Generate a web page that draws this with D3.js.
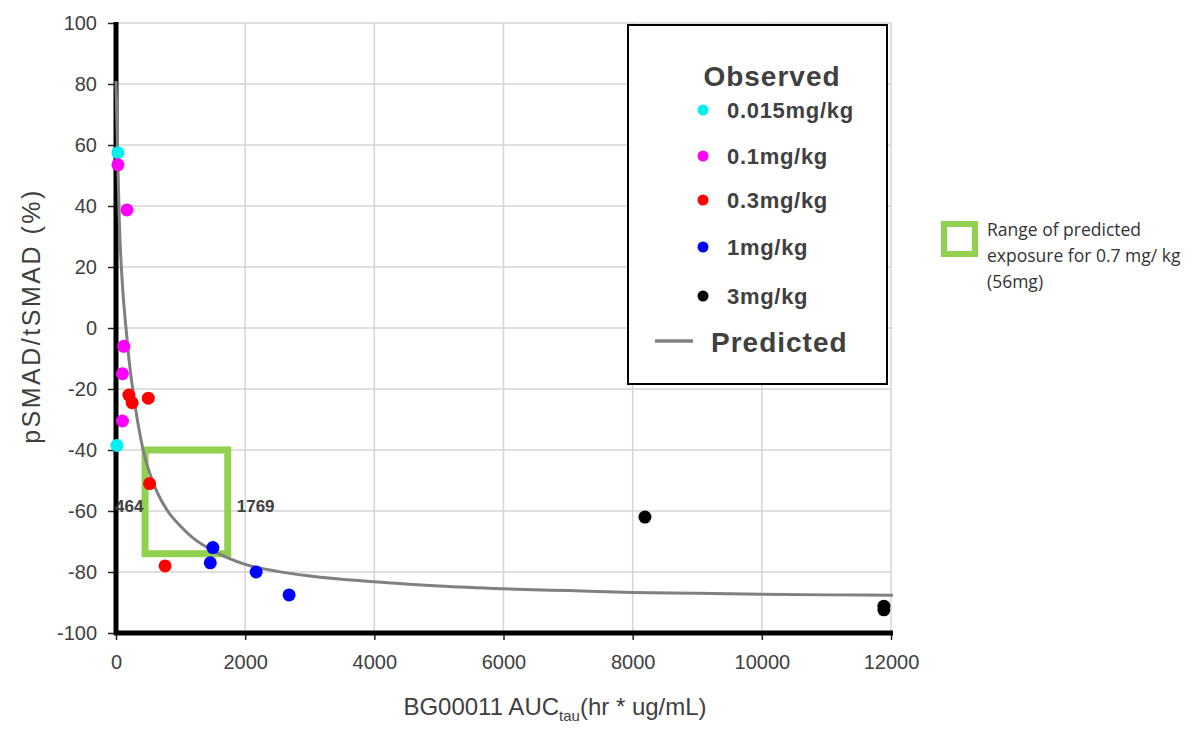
<!DOCTYPE html>
<html>
<head>
<meta charset="utf-8">
<script src="https://cdn.jsdelivr.net/npm/d3@7"></script>
<style>
  body { margin: 0; background: #fff; }
  svg { display: block; }
</style>
</head>
<body>
<svg id="chart" width="1200" height="729"></svg>
<script>
// size of window
var width = 1200, height = 729;

// observed points per dose group, [AUC, pSMAD/tSMAD %]
var obs_0015 = [[30, 57.5], [15, -38.5]];
var obs_01 = [[30, 53.5], [170, 38.7], [120, -6], [100, -15], [100, -30.5]];
var obs_03 = [[200, -22], [250, -24.5], [500, -23], [520, -51], [760, -78]];
var obs_1 = [[1500, -72], [1460, -77], [2170, -80], [2680, -87.5]];
var obs_3 = [[8190, -62], [11890, -91.2], [11890, -92.4]];

var groupNames = ["0.015mg/kg", "0.1mg/kg", "0.3mg/kg", "1mg/kg", "3mg/kg"];
var groupColors = ["#00f0f0", "#ff00ff", "#ff0000", "#0000ff", "#000000"];
var groupData = [obs_0015, obs_01, obs_03, obs_1, obs_3];

// predicted curve
var predX = [0, 20, 50, 100, 150, 200, 300, 420, 600, 800, 1000, 1200, 1500, 2000, 2500, 3000, 4000, 5000, 6000, 7000, 8000, 9000, 10000, 11000, 12000, 12030];
var predY = [81, 62, 36, 14, 1, -10, -26, -40, -52, -60, -65, -69, -73, -77.5, -79.8, -81.3, -83.2, -84.6, -85.5, -86.1, -86.7, -87, -87.3, -87.5, -87.6, -87.6];

// range of predicted exposure (box) and labels
var boxX = [450, 1730];
var boxY = [-40, -74];
var boxLabels = ["464", "1769"];

var xTicks = [0, 2000, 4000, 6000, 8000, 10000, 12000];
var yTicks = [-100, -80, -60, -40, -20, 0, 20, 40, 60, 80, 100];

var svg = d3.select("#chart");
var x = d3.scaleLinear().domain([0, 12000]).range([116, 891]);
var y = d3.scaleLinear().domain([-100, 100]).range([633, 23]);

var textCol = "#404040";
var axisFont = "'Liberation Sans', Arial, sans-serif";

// grid
svg.append("g").selectAll("line").data(yTicks.filter(d => d > -100)).join("line")
  .attr("x1", x(0)).attr("x2", x(12000))
  .attr("y1", d => y(d)).attr("y2", d => y(d))
  .attr("stroke", "#d4d4d4").attr("stroke-width", 1.5);
svg.append("g").selectAll("line").data(xTicks.filter(d => d > 0)).join("line")
  .attr("x1", d => x(d)).attr("x2", d => x(d))
  .attr("y1", y(100)).attr("y2", y(-100))
  .attr("stroke", "#d4d4d4").attr("stroke-width", 1.5);

// axes with d3 axis generators
var yAxis = svg.append("g").attr("transform", "translate(" + x(0) + ",0)")
  .call(d3.axisLeft(y).tickValues(yTicks).tickSize(8).tickPadding(11).tickFormat(d => String(d)));
var xAxis = svg.append("g").attr("transform", "translate(0," + y(-100) + ")")
  .call(d3.axisBottom(x).tickValues(xTicks).tickSize(7).tickPadding(12).tickFormat(d => String(d)));
[yAxis, xAxis].forEach(function(a) {
  a.select(".domain").remove();
  a.selectAll(".tick line").attr("stroke", "#222").attr("stroke-width", 1.5);
  a.selectAll(".tick text").attr("fill", textCol).style("font-family", axisFont).style("font-size", "20px");
});
xAxis.selectAll(".tick text").attr("dy", "0.85em");
svg.append("line").attr("x1", x(0)).attr("x2", x(0)).attr("y1", y(100) - 1).attr("y2", y(-100) + 2)
  .attr("stroke", "#000").attr("stroke-width", 5);
svg.append("line").attr("x1", x(0) - 2).attr("x2", x(12000) + 2).attr("y1", y(-100)).attr("y2", y(-100))
  .attr("stroke", "#000").attr("stroke-width", 5);

// green range box
svg.append("rect")
  .attr("x", x(boxX[0])).attr("y", y(boxY[0]))
  .attr("width", x(boxX[1]) - x(boxX[0])).attr("height", y(boxY[1]) - y(boxY[0]))
  .attr("fill", "none").attr("stroke", "#92d050").attr("stroke-width", 7);

// box labels
svg.append("text").attr("x", x(0) - 1).attr("y", y(-60) + 1).text(boxLabels[0])
  .attr("fill", textCol).style("font-family", axisFont).style("font-size", "17px").style("font-weight", "bold");
svg.append("text").attr("x", x(boxX[1]) + 9).attr("y", y(-60) + 1).text(boxLabels[1])
  .attr("fill", textCol).style("font-family", axisFont).style("font-size", "17px").style("font-weight", "bold");

// predicted line
var pred = predX.map((d, i) => [d, predY[i]]);
svg.append("path").datum(pred)
  .attr("d", d3.line().x(d => x(d[0])).y(d => y(d[1])).curve(d3.curveMonotoneX))
  .attr("fill", "none").attr("stroke", "#808080").attr("stroke-width", 3);

// observed points
groupData.forEach(function(data, i) {
  svg.append("g").selectAll("circle").data(data).join("circle")
    .attr("cx", d => x(d[0])).attr("cy", d => y(d[1]))
    .attr("r", 6.5).attr("fill", groupColors[i]);
});

// legend
var lg = svg.append("g");
lg.append("rect").attr("x", 628).attr("y", 25).attr("width", 259).attr("height", 359)
  .attr("fill", "#fff").attr("stroke", "#000").attr("stroke-width", 2);
lg.append("text").attr("x", 772).attr("y", 86).attr("text-anchor", "middle").text("Observed")
  .attr("fill", textCol).style("font-family", axisFont).style("font-size", "28px").style("font-weight", "bold")
  .style("letter-spacing", "1px");
var legY = [110, 156, 200, 247, 296];
groupNames.forEach(function(name, i) {
  lg.append("circle").attr("cx", 703).attr("cy", legY[i]).attr("r", 5.5).attr("fill", groupColors[i]);
  lg.append("text").attr("x", 727).attr("y", legY[i] + 8).text(name)
    .attr("fill", textCol).style("font-family", axisFont).style("font-size", "22px").style("font-weight", "bold")
    .style("letter-spacing", "0.7px");
});
lg.append("line").attr("x1", 655).attr("x2", 693).attr("y1", 341).attr("y2", 341)
  .attr("stroke", "#808080").attr("stroke-width", 3.5);
lg.append("text").attr("x", 711).attr("y", 352).text("Predicted")
  .attr("fill", textCol).style("font-family", axisFont).style("font-size", "28px").style("font-weight", "bold")
  .style("letter-spacing", "1px");

// right annotation
svg.append("rect").attr("x", 944).attr("y", 224).attr("width", 31).attr("height", 30)
  .attr("fill", "none").attr("stroke", "#92d050").attr("stroke-width", 6);
var noteLines = ["Range of predicted", "exposure for 0.7 mg/ kg", "(56mg)"];
svg.append("g").selectAll("text").data(noteLines).join("text")
  .attr("x", 987).attr("y", (d, i) => 236 + i * 26).text(d => d)
  .attr("fill", "#333").style("font-family", "'Open Sans', 'Noto Sans', sans-serif").style("font-size", "17.5px");

// axis titles
var xt = svg.append("text").attr("x", 555).attr("y", 715).attr("text-anchor", "middle")
  .attr("fill", textCol).style("font-family", axisFont).style("font-size", "24px");
xt.append("tspan").text("BG00011 AUC");
xt.append("tspan").attr("dy", 6).style("font-size", "15px").text("tau");
xt.append("tspan").attr("dy", -6).text("(hr * ug/mL)");

svg.append("text").attr("transform", "translate(40,316) rotate(-90)").attr("text-anchor", "middle")
  .attr("fill", textCol).style("font-family", axisFont).style("font-size", "25px").style("letter-spacing", "2.5px")
  .text("pSMAD/tSMAD (%)");
</script>
</body>
</html>
